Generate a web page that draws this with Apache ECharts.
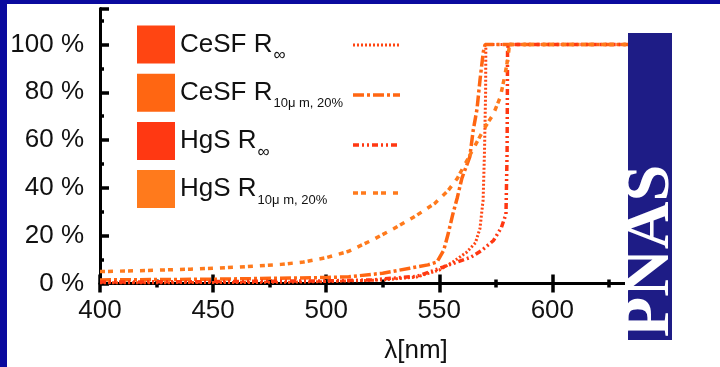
<!DOCTYPE html>
<html>
<head>
<meta charset="utf-8">
<script src="https://cdn.jsdelivr.net/npm/echarts@6/dist/echarts.min.js"></script>
<style>
  html, body { margin: 0; padding: 0; background: #fff; }
  #chart { width: 720px; height: 367px; }
</style>
</head>
<body>
<div id="chart"></div>
<script>
// reflectance curves, [wavelength nm, percent]
const ceSfInf = [[400, 0.3], [450, 0.4], [480, 0.5], [500, 0.8], [525, 1.5], [540, 2.7], [550, 5.6], [556, 9], [562, 13], [566, 17], [568, 23], [569.4, 35], [570, 55], [570.5, 80], [570.6, 100], [700, 100]];
const ceSfR10 = [[400, 1.5], [450, 1.8], [500, 2.5], [510, 2.8], [525, 4.3], [537, 6.4], [545, 7.8], [549, 9], [552, 14], [554, 21], [556, 29], [558, 36], [560, 44], [563.5, 53], [565, 64], [566.7, 73], [568, 85], [569.5, 97], [570.3, 100], [700, 100]];
const hgsInf = [[400, 0.6], [450, 0.8], [500, 1.1], [520, 1.5], [540, 3], [546, 4.9], [552, 7], [558, 9], [564, 11], [569, 14], [574, 18], [577.5, 23.5], [579.5, 29], [580, 55], [580.2, 97], [580.5, 100], [700, 100]];
const hgsR10 = [[400, 5], [420, 5.4], [440, 6], [460, 6.8], [480, 8], [490, 9], [500, 10.8], [510, 13.5], [520, 18], [530, 23], [540, 28.5], [548, 33.5], [554, 39], [558, 44], [562, 51], [566, 58], [570, 65], [574, 71], [577, 78], [579, 87], [580.5, 95], [581, 100], [700, 100]];

const seriesNames = ['CeSF R∞', 'CeSF R10μm, 20%', 'HgS R∞', 'HgS R10μm, 20%'];
const mainLabels = ['CeSF R', 'CeSF R', 'HgS R', 'HgS R'];
const subLabels = ['{i|∞}', '{s|10μ m, 20%}', '{i|∞}', '{s|10μ m, 20%}'];
const yTickLabels = [0, 20, 40, 60, 80, 100];
const xTickLabels = [400, 450, 500, 550, 600];

const colors = ['#ff4512', '#ff6612', '#ff3812', '#ff7a1c'];
const dashes = [[2, 2], [11, 3, 3, 3], [6, 3, 2, 3, 2, 3], [5, 3, 5, 7]];
const widths = [3, 3.5, 3.5, 3.5];
const curves = [ceSfInf, ceSfR10, hgsInf, hgsR10];

const FONT = '"Liberation Sans", Arial, sans-serif';
const chart = echarts.init(document.getElementById('chart'));

const tickStyle = { color: '#000', width: 3.5 };

const option = {
  backgroundColor: '#fff',
  animation: false,
  grid: { left: 100, top: 8.6, width: 678.5, height: 274.9, outerBoundsMode: 'none' },
  legend: {
    orient: 'vertical',
    left: 137,
    top: 25,
    padding: 0,
    itemGap: 9.7,
    itemWidth: 38,
    itemHeight: 38,
    icon: 'rect',
    selectedMode: false,
    itemStyle: { borderWidth: 0 },
    data: seriesNames,
    formatter: function (name) {
      const i = seriesNames.indexOf(name);
      return '{b|' + mainLabels[i] + '}' + subLabels[i];
    },
    textStyle: {
      color: '#111',
      fontFamily: FONT,
      fontSize: 26,
      rich: {
        b: { fontSize: 26, lineHeight: 30, fontFamily: FONT, color: '#111' },
        s: { fontSize: 13, lineHeight: 13, padding: [22, 0, 0, 1], fontFamily: FONT, color: '#111' },
        i: { fontSize: 17, lineHeight: 13, padding: [22, 0, 0, 1], fontFamily: FONT, color: '#111' }
      }
    }
  },
  xAxis: [
    {
      type: 'value', position: 'bottom', min: 400, max: 700, interval: 50,
      axisLine: { lineStyle: { color: '#000', width: 3 } },
      axisTick: { inside: true, length: 9, lineStyle: tickStyle },
      minorTick: { show: true, splitNumber: 2, length: 4, lineStyle: tickStyle },
      splitLine: { show: false },
      axisLabel: {
        margin: 14, color: '#111', fontFamily: FONT, fontSize: 26,
        formatter: v => xTickLabels.indexOf(v) >= 0 ? String(v) : ''
      }
    },
    {
      type: 'value', position: 'top', min: 400, max: 700, interval: 50,
      axisLine: { lineStyle: { color: '#000', width: 3 } },
      axisTick: { inside: true, length: 9, lineStyle: tickStyle },
      minorTick: { show: true, splitNumber: 2, length: 4, lineStyle: tickStyle },
      splitLine: { show: false },
      axisLabel: { show: false }
    }
  ],
  yAxis: [
    {
      type: 'value', position: 'left', min: 0, max: 115, interval: 20,
      axisLine: { show: true, lineStyle: { color: '#000', width: 3 } },
      axisTick: { inside: true, length: 9, lineStyle: tickStyle },
      splitLine: { show: false },
      axisLabel: {
        margin: 16, color: '#111', fontFamily: FONT, fontSize: 26,
        formatter: v => yTickLabels.indexOf(v) >= 0 ? v + ' %' : ''
      }
    },
    {
      type: 'value', position: 'left', min: 0, max: 115, interval: 10,
      axisLine: { show: false },
      axisTick: { inside: true, length: 4, lineStyle: tickStyle },
      splitLine: { show: false },
      axisLabel: { show: false }
    }
  ],
  series: curves.map((d, i) => ({
    name: seriesNames[i],
    type: 'line',
    data: d,
    showSymbol: false,
    symbol: 'none',
    color: colors[i],
    itemStyle: { color: colors[i] },
    lineStyle: { color: colors[i], width: widths[i], type: dashes[i], cap: 'butt' },
    z: 2 + i
  })),
  graphic: [
    // legend line samples
    ...[45, 95, 145, 193].map((y, i) => ({
      type: 'line', z: 100,
      shape: { x1: 353, y1: y, x2: 400, y2: y },
      style: { stroke: colors[i], lineWidth: widths[i], lineDash: dashes[i] }
    })),
    { type: 'text', z: 100, x: 416, y: 351,
      style: { text: 'λ[nm]', font: '26px ' + FONT, fill: '#111', align: 'center', verticalAlign: 'middle' } },
    // white cover right of the logo
    { type: 'rect', z: 100, shape: { x: 672, y: 12, width: 48, height: 355 }, style: { fill: '#fff' } },
    // PNAS logo
    { type: 'rect', z: 101, shape: { x: 628, y: 33, width: 44, height: 307 }, style: { fill: '#1e1c86' } },
    { type: 'text', z: 102, x: 651, y: 251, rotation: Math.PI / 2,
      style: { text: 'PNAS', font: 'bold 66px "Liberation Serif", serif', fill: '#fff', align: 'center', verticalAlign: 'middle' } },
    // blue slide frame
    { type: 'rect', z: 103, shape: { x: 0, y: 0, width: 720, height: 4 }, style: { fill: '#0a0a9e' } },
    { type: 'rect', z: 103, shape: { x: 0, y: 0, width: 7, height: 367 }, style: { fill: '#0a0a9e' } }
  ]
};

chart.setOption(option);
</script>
</body>
</html>
